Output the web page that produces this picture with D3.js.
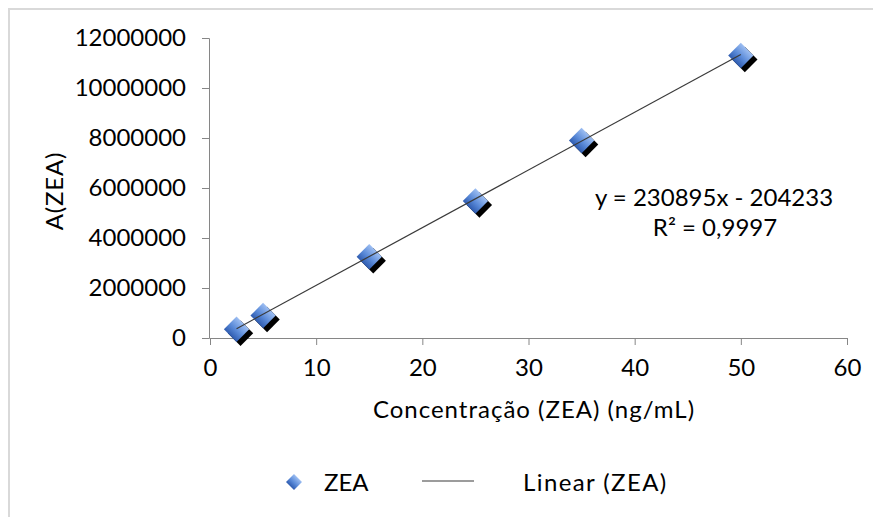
<!DOCTYPE html>
<html>
<head>
<meta charset="utf-8">
<script src="https://cdn.jsdelivr.net/npm/d3@7"></script>
<style>
  body { margin: 0; background: #fff; }
  svg text { font-family: Lato, "Open Sans", sans-serif; fill: #000; }
</style>
</head>
<body>
<div id="chart"></div>
<script>
// data
var concentrations = [2.5, 5, 15, 25, 35, 50];
var areas = [350000, 900000, 3250000, 5480000, 7900000, 11300000];
var xTicks = [0, 10, 20, 30, 40, 50, 60];
var yTicks = [0, 2000000, 4000000, 6000000, 8000000, 10000000, 12000000];
var slope = 230895, intercept = -204233;
var equationLines = ["y = 230895x - 204233", "R\u00b2 = 0,9997"];
var legendLabels = ["ZEA", "Linear (ZEA)"];

var width = 873, height = 517;
var fontSize = "24px";

var svg = d3.select("#chart")
  .append("svg")
    .attr("width", width)
    .attr("height", height);

// chart frame (only top and left edges show in the crop)
svg.append("path")
  .attr("d", "M9,520 L9,9 L880,9")
  .attr("fill", "none")
  .attr("stroke", "#d9d9d9")
  .attr("stroke-width", 2);

var defs = svg.append("defs");
var grad = defs.append("linearGradient")
  .attr("id", "blueGrad")
  .attr("x1", 0).attr("y1", 0).attr("x2", 0).attr("y2", 1);
grad.append("stop").attr("offset", "0%").attr("stop-color", "#9dbef2");
grad.append("stop").attr("offset", "55%").attr("stop-color", "#5a8ad8");
grad.append("stop").attr("offset", "100%").attr("stop-color", "#2f5cb0");

var x = d3.scaleLinear().domain([0, 60]).range([210, 847]);
var y = d3.scaleLinear().domain([0, 12000000]).range([338, 38]);

// Y axis
var yAxis = svg.append("g")
  .attr("transform", "translate(209,0)")
  .call(d3.axisLeft(y).tickValues(yTicks).tickFormat(d3.format("d")).tickSize(7).tickPadding(16));
yAxis.selectAll("path, line").attr("stroke", "#868686");
yAxis.selectAll("text").style("font-size", fontSize);

// X axis
var xAxis = svg.append("g")
  .attr("transform", "translate(0,338)")
  .call(d3.axisBottom(x).tickValues(xTicks).tickSize(7).tickPadding(14));
xAxis.selectAll("path, line").attr("stroke", "#868686");
xAxis.selectAll("text").style("font-size", fontSize);

// axis titles
svg.append("text")
  .attr("transform", "translate(63,191) rotate(-90)")
  .style("text-anchor", "middle")
  .style("font-size", fontSize)
  .style("letter-spacing", "0.8px")
  .text("A(ZEA)");

svg.append("text")
  .attr("x", 534)
  .attr("y", 418)
  .style("text-anchor", "middle")
  .style("font-size", fontSize)
  .style("letter-spacing", "1px")
  .text("Concentra\u00e7\u00e3o (ZEA) (ng/mL)");

// markers: black shadow then blue diamond
var diamond = d3.symbol().type(d3.symbolSquare).size(320);
var pts = svg.append("g");
pts.selectAll(".shadow")
  .data(concentrations)
  .enter()
  .append("path")
    .attr("class", "shadow")
    .attr("d", diamond)
    .attr("fill", "#000")
    .attr("transform", function(d, i) { return "translate(" + (x(d) + 4) + "," + (y(areas[i]) + 4) + ") rotate(45)"; });
pts.selectAll(".marker")
  .data(concentrations)
  .enter()
  .append("path")
    .attr("class", "marker")
    .attr("d", diamond)
    .attr("fill", "url(#blueGrad)")
    .attr("transform", function(d, i) { return "translate(" + x(d) + "," + y(areas[i]) + ") rotate(45)"; });

// linear trendline
var xMin = d3.min(concentrations), xMax = d3.max(concentrations);
svg.append("line")
  .attr("x1", x(xMin)).attr("y1", y(slope * xMin + intercept))
  .attr("x2", x(xMax)).attr("y2", y(slope * xMax + intercept))
  .attr("stroke", "#3a3a3a")
  .attr("stroke-width", 1.2);

// equation
svg.append("text")
  .attr("x", 714)
  .attr("y", 206)
  .style("text-anchor", "middle")
  .style("font-size", fontSize)
  .text(equationLines[0]);
svg.append("text")
  .attr("x", 715)
  .attr("y", 236)
  .style("text-anchor", "middle")
  .style("font-size", fontSize)
  .text(equationLines[1]);

// legend
var legend = svg.append("g");
legend.append("path")
  .attr("d", d3.symbol().type(d3.symbolSquare).size(128))
  .attr("fill", "url(#blueGrad)")
  .attr("transform", "translate(294,482) rotate(45)");
legend.append("text")
  .attr("x", 324)
  .attr("y", 491)
  .style("font-size", fontSize)
  .text(legendLabels[0]);
legend.append("line")
  .attr("x1", 422).attr("x2", 474)
  .attr("y1", 481).attr("y2", 481)
  .attr("stroke", "#3a3a3a")
  .attr("stroke-width", 1.2);
legend.append("text")
  .attr("x", 523)
  .attr("y", 491)
  .style("font-size", fontSize)
  .style("letter-spacing", "1.4px")
  .text(legendLabels[1]);
</script>
</body>
</html>
